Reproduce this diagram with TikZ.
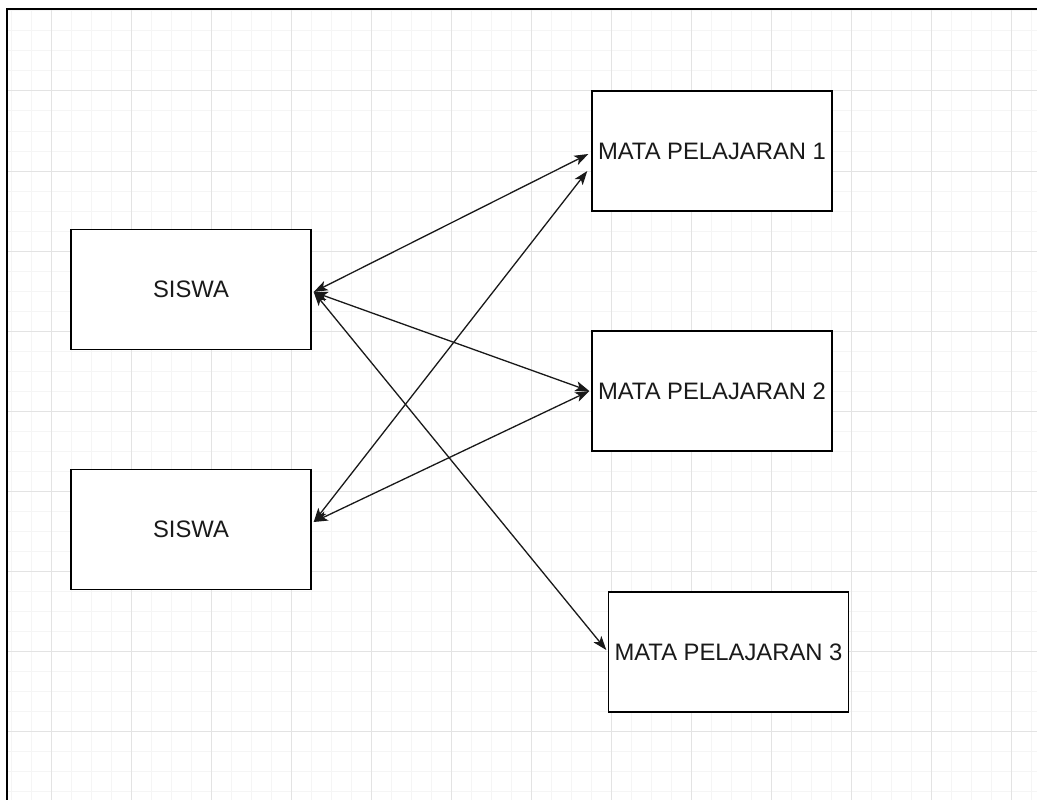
\documentclass[tikz,border=0pt]{standalone}
\usepackage{fontspec}
\setmainfont{Liberation Sans}
\usetikzlibrary{arrows.meta,calc}
\definecolor{minorgrid}{HTML}{F5F5F5}
\definecolor{majorgrid}{HTML}{E3E3E3}
\definecolor{textcol}{HTML}{1A1A1A}
\tikzset{
  box/.style={draw=black, line width=1.4pt, fill=white, minimum width=240pt, minimum height=120pt, inner sep=0pt, font=\fontsize{23.8pt}{28pt}\selectfont, text=textcol},
  conn/.style={draw=black!90, line width=1.3pt, {Stealth[length=14pt,width=10pt,inset=3.5pt]}-{Stealth[length=14pt,width=10pt,inset=3.5pt]}},
  frame/.style={line width=2pt, black}
}
\begin{document}
\begin{tikzpicture}[x=1pt,y=-1pt]
\useasboundingbox (0,0) rectangle (1037,800);
\fill[white] (0,0) rectangle (1037,800);
% grid
\foreach \x in {11,31,...,1031} \draw[minorgrid, line width=1pt] (\x,10) -- (\x,800);
\foreach \y in {11,31,...,791} \draw[minorgrid, line width=1pt] (8,\y) -- (1037,\y);
\foreach \x in {51,131,...,1013} \draw[majorgrid, line width=1pt] (\x,10) -- (\x,800);
\foreach \y in {91,171,...,731} \draw[majorgrid, line width=1pt] (8,\y) -- (1037,\y);
% frame
\draw[frame] (7,800) -- (7,9) -- (1037,9);
% nodes
\node[box] (s1) at (191,289.5) {SISWA};
\node[box] (s2) at (191,529.5) {SISWA};
\node[box] (m1) at (712,151) {MATA PELAJARAN 1};
\node[box] (m2) at (712,391) {MATA PELAJARAN 2};
\node[box] (m3) at (728.5,652) {MATA PELAJARAN 3};
% connectors
\draw[conn] ($(s1.east)+(2,2.5)$) -- ($(m1.west)+(-3,3)$);
\draw[conn] ($(s1.east)+(2,2.5)$) -- ($(m2.west)+(-2,0)$);
\draw[conn] ($(s1.east)+(2,2.5)$) -- ($(m3.west)+(-1.5,-2)$);
\draw[conn] ($(s2.east)+(2,-7.5)$) -- ($(m1.west)+(-4,20)$);
\draw[conn] ($(s2.east)+(2,-7.5)$) -- ($(m2.west)+(-2,0)$);
\end{tikzpicture}
\end{document}
